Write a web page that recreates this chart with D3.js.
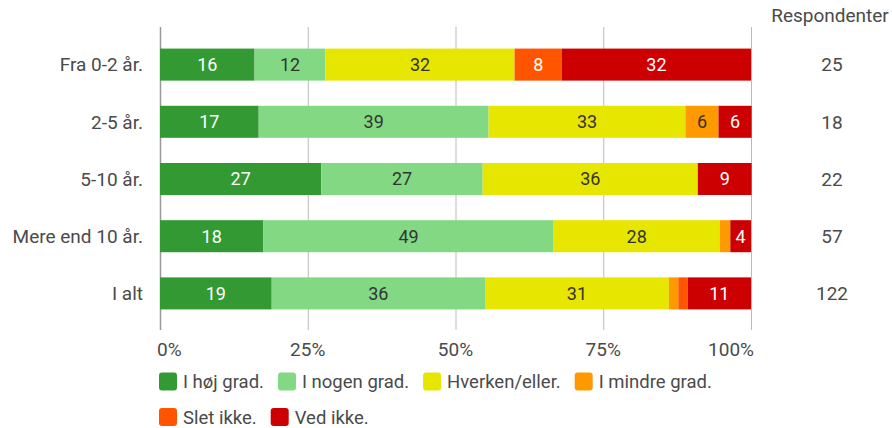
<!DOCTYPE html>
<html>
<head>
<meta charset="utf-8">
<script src="https://d3js.org/d3.v7.min.js"></script>
<style>
  body { margin: 0; background: #fff; }
  svg text { font-family: Roboto, "Noto Sans", sans-serif; }
</style>
</head>
<body>
<div id="chart"></div>
<script>
// rows of the chart
var categories = ["Fra 0-2 år.", "2-5 år.", "5-10 år.", "Mere end 10 år.", "I alt"];
var respondents = [25, 18, 22, 57, 122];

// answer series, percent per row
var series = ["I høj grad.", "I nogen grad.", "Hverken/eller.", "I mindre grad.", "Slet ikke.", "Ved ikke."];
var hoejGrad   = [16, 16.7, 27.3, 17.5, 18.9];
var nogenGrad  = [12, 38.9, 27.3, 49.1, 36.1];
var hverken    = [32, 33.3, 36.4, 28.1, 31.1];
var mindreGrad = [0, 5.6, 0, 1.8, 1.6];
var sletIkke   = [8, 0, 0, 0, 1.6];
var vedIkke    = [32, 5.6, 9.1, 3.5, 10.7];

var ticks = [0, 25, 50, 75, 100];

var colors = ["#339933", "#83d983", "#e6e600", "#ff9900", "#ff5500", "#cc0000"];
var labelColors = ["#fff", "#333", "#333", "#333", "#fff", "#fff"];

var values = [hoejGrad, nogenGrad, hverken, mindreGrad, sletIkke, vedIkke];

var width = 892, height = 428;
var textColor = "#4a4a4a";

var svg = d3.select("#chart").append("svg")
  .attr("width", width)
  .attr("height", height);

var x = d3.scaleLinear().domain([0, 100]).range([160, 751]);
var y = d3.scaleBand().domain(categories).range([36, 322])
  .paddingInner(0.44).paddingOuter(0.22);

// gridlines
svg.append("g").selectAll("line")
  .data(ticks)
  .enter().append("line")
  .attr("x1", function(d) { return x(d) + 0.5; })
  .attr("x2", function(d) { return x(d) + 0.5; })
  .attr("y1", 27)
  .attr("y2", 330)
  .attr("stroke", function(d) { return d == 0 ? "#999" : "#bbb"; })
  .attr("stroke-width", function(d) { return d == 0 ? 1.5 : 1; });

// build stacked rows
var table = categories.map(function(c, i) {
  var row = { cat: c };
  series.forEach(function(s, j) { row[s] = values[j][i]; });
  return row;
});
var stacked = d3.stack().keys(series)(table);

var layer = svg.append("g").selectAll("g")
  .data(stacked)
  .enter().append("g")
  .attr("fill", function(d, i) { return colors[i]; });

layer.selectAll("rect")
  .data(function(d) { return d; })
  .enter().append("rect")
  .attr("x", function(d) { return x(d[0]); })
  .attr("y", function(d) { return y(d.data.cat); })
  .attr("width", function(d) { return x(d[1]) - x(d[0]); })
  .attr("height", y.bandwidth());

// segment labels
stacked.forEach(function(s, i) {
  svg.append("g").selectAll("text")
    .data(s.filter(function(d) { return x(d[1]) - x(d[0]) > 14; }))
    .enter().append("text")
    .attr("x", function(d) { return (x(d[0]) + x(d[1])) / 2; })
    .attr("y", function(d) { return y(d.data.cat) + y.bandwidth() / 2; })
    .attr("dy", "0.36em")
    .attr("text-anchor", "middle")
    .attr("font-size", 18)
    .attr("fill", labelColors[i])
    .text(function(d) { return Math.round(d[1] - d[0]); });
});

// category labels
svg.append("g").selectAll("text")
  .data(categories)
  .enter().append("text")
  .attr("x", 143)
  .attr("y", function(d) { return y(d) + y.bandwidth() / 2; })
  .attr("dy", "0.36em")
  .attr("text-anchor", "end")
  .attr("font-size", 19)
  .attr("fill", textColor)
  .text(function(d) { return d; });

// respondents column
svg.append("text")
  .attr("x", 830).attr("y", 15)
  .attr("dy", "0.36em")
  .attr("text-anchor", "middle")
  .attr("font-size", 19)
  .attr("fill", textColor)
  .text("Respondenter");

svg.append("g").selectAll("text")
  .data(respondents)
  .enter().append("text")
  .attr("x", 832)
  .attr("y", function(d, i) { return y(categories[i]) + y.bandwidth() / 2; })
  .attr("dy", "0.36em")
  .attr("text-anchor", "middle")
  .attr("font-size", 19)
  .attr("fill", textColor)
  .text(function(d) { return d; });

// x tick labels
svg.append("g").selectAll("text")
  .data(ticks)
  .enter().append("text")
  .attr("x", function(d) { return x(d); })
  .attr("y", 349)
  .attr("dy", "0.36em")
  .attr("text-anchor", function(d) { return d == 0 ? "start" : d == 100 ? "end" : "middle"; })
  .attr("dx", function(d) { return d == 0 ? -3 : d == 100 ? 3 : 0; })
  .attr("font-size", 19)
  .attr("fill", textColor)
  .text(function(d) { return d + "%"; });

// legend, four items on the first row
var legend = svg.append("g");
var lx = 159, ly = 381.5;
series.forEach(function(s, i) {
  if (i == 4) { lx = 159; ly = 417; }
  var g = legend.append("g")
    .attr("transform", "translate(" + lx + "," + ly + ")");
  g.append("rect")
    .attr("x", 0).attr("y", -9)
    .attr("width", 18).attr("height", 18)
    .attr("rx", 3)
    .attr("fill", colors[i]);
  var t = g.append("text")
    .attr("x", 24).attr("dy", "0.36em")
    .attr("font-size", 18.5)
    .attr("fill", textColor)
    .text(s);
  lx += 24 + t.node().getComputedTextLength() + 14;
});
</script>
</body>
</html>
